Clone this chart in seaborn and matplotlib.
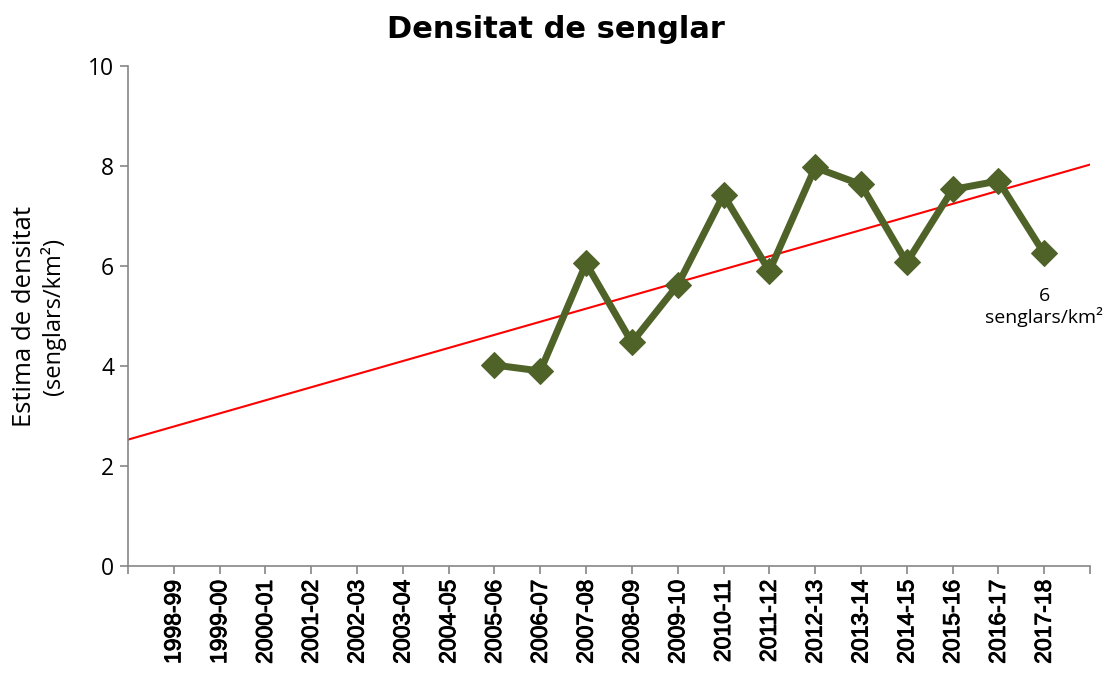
import matplotlib
matplotlib.use('Agg')
import matplotlib.pyplot as plt
import matplotlib.patheffects as pe
import numpy as np
import seaborn as sns

seasons = ['1998-99', '1999-00', '2000-01', '2001-02', '2002-03', '2003-04', '2004-05',
           '2005-06', '2006-07', '2007-08', '2008-09', '2009-10', '2010-11', '2011-12',
           '2012-13', '2013-14', '2014-15', '2015-16', '2016-17', '2017-18']
# density only measured from 2005-06
measured_seasons = seasons[7:]
density = [4.02, 3.90, 6.05, 4.47, 5.62, 7.42, 5.90, 7.97, 7.63, 6.07, 7.53, 7.70, 6.25]

green = '#4F6228'
grey = '#868686'

sns.set_style('white')
plt.rcParams['font.family'] = ['DejaVu Sans']
plt.rcParams['text.color'] = 'black'
plt.rcParams['xtick.labelcolor'] = 'black'
plt.rcParams['ytick.labelcolor'] = 'black'

fig = plt.figure(figsize=(11.11, 6.76), dpi=100)
ax = fig.add_axes([0.1152, 0.1627, 0.8659, 0.7397])

x_idx = np.array([seasons.index(s) for s in measured_seasons])
ax.set_xlim(-1, 20)

# linear trend, extended over whole axis
sns.regplot(x=x_idx, y=density, ax=ax, scatter=False, ci=None, truncate=False,
            line_kws=dict(color='red', lw=1.5, zorder=2))

sns.lineplot(x=x_idx, y=density, ax=ax, color=green, lw=5, marker='D',
             markersize=13, markeredgecolor=green, zorder=3)

ax.set_xlim(-1, 20)
ax.set_ylim(0, 10)
ax.set_xticks(range(-1, 21))
ax.set_xticklabels([''] + seasons + [''], rotation=90, fontsize=16.5,
                   family='Liberation Sans')
for lab in ax.get_xticklabels():
    lab.set_path_effects([pe.withStroke(linewidth=0.7, foreground='black')])
ax.set_yticks([0, 2, 4, 6, 8, 10])
ax.set_yticklabels(['0', '2', '4', '6', '8', '10'], fontsize=16.5, family='Open Sans')
ax.tick_params(axis='both', which='both', length=6, width=1.2, color=grey,
               direction='out', pad=4, left=True, bottom=True)

for side in ['top', 'right']:
    ax.spines[side].set_visible(False)
for side in ['left', 'bottom']:
    ax.spines[side].set_color(grey)
    ax.spines[side].set_linewidth(1.2)

ax.set_xlabel('')
ax.set_ylabel('')

fig.text(0.5, 0.957, 'Densitat de senglar', ha='center', va='center',
         fontsize=22, fontweight='bold')
fig.text(0.022, 0.532, 'Estima de densitat', rotation=90, ha='center', va='center',
         fontsize=18.5, family='Open Sans')
fig.text(0.048, 0.532, '(senglars/km²)', rotation=90, ha='center', va='center',
         fontsize=17, family='Open Sans')

last = len(density) - 1
ax.annotate(f'{int(density[last])}\nsenglars/km²', xy=(x_idx[last], density[last]),
            xytext=(0, -24), textcoords='offset points', ha='center', va='top',
            fontsize=14, family='Open Sans', linespacing=1.15)

fig.savefig('out.png', dpi=100)
